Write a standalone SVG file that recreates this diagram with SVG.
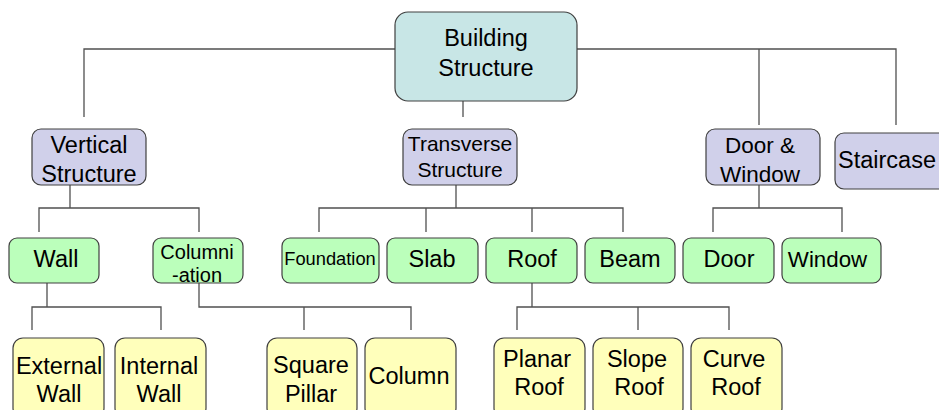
<svg xmlns="http://www.w3.org/2000/svg" width="939" height="410" viewBox="0 0 939 410">
  <style>
    .box { stroke: #404040; stroke-width: 1.2; }
    .root { fill: #C8E6E6; }
    .l1 { fill: #D0D0EA; }
    .l2 { fill: #BBFFBB; }
    .l3 { fill: #FFFFBB; }
    .link { fill: none; stroke: #505050; stroke-width: 1.3; }
    text { font-family: "Liberation Sans", Arial, sans-serif; font-size: 23.5px; fill: #000; text-anchor: middle; }
  </style>

  <!-- connectors -->
  <g id="connectors">
    <!-- root to first level -->
    <path class="link" d="M395 49 H84 V117"/>
    <path class="link" d="M577 49 H896 V125"/>
    <path class="link" d="M759 49 V125"/>
    <path class="link" d="M463 101 V117"/>
    <!-- Vertical Structure -->
    <path class="link" d="M70 185 V208 M39 232 V208 H199 V232"/>
    <!-- Transverse Structure -->
    <path class="link" d="M456 185 V208 M319 232 V208 H623 V232 M426 208 V232 M532 208 V232"/>
    <!-- Door & Window -->
    <path class="link" d="M759 185 V208 M713 232 V208 H842 V232"/>
    <!-- Wall -->
    <path class="link" d="M47 283 V307 M32 330 V307 H161 V330"/>
    <!-- Columniation -->
    <path class="link" d="M199 283 V307 H411 V330 M304 307 V330"/>
    <!-- Roof -->
    <path class="link" d="M532 283 V307 M517 330 V307 H729 V330 M638 307 V330"/>
  </g>

  <!-- root -->
  <g id="building-structure">
    <rect class="box root" x="395" y="12" width="182" height="89" rx="13"/>
    <text x="486" y="46">Building</text>
    <text x="486" y="76">Structure</text>
  </g>

  <!-- first level -->
  <g id="vertical-structure">
    <rect class="box l1" x="32" y="129" width="114" height="56" rx="9"/>
    <text x="89" y="153">Vertical</text>
    <text x="89" y="182">Structure</text>
  </g>
  <g id="transverse-structure">
    <rect class="box l1" x="403" y="129" width="114" height="56" rx="9"/>
    <text x="460" y="151" style="font-size:21px">Transverse</text>
    <text x="460" y="177" style="font-size:21px">Structure</text>
  </g>
  <g id="door-window">
    <rect class="box l1" x="706" y="129" width="114" height="56" rx="9"/>
    <text x="760" y="153" style="font-size:22.5px">Door &amp;</text>
    <text x="760" y="182" style="font-size:22.5px">Window</text>
  </g>
  <g id="staircase">
    <rect class="box l1" x="835" y="133" width="114" height="56" rx="9"/>
    <text x="838" y="168" style="text-anchor:start">Staircase</text>
  </g>

  <!-- second level -->
  <g id="wall">
    <rect class="box l2" x="9" y="238" width="90" height="45" rx="8"/>
    <text x="56" y="267">Wall</text>
  </g>
  <g id="columniation">
    <rect class="box l2" x="153" y="238" width="90" height="45" rx="8"/>
    <text x="197" y="259" style="font-size:20px">Columni</text>
    <text x="197" y="282" style="font-size:20px">-ation</text>
  </g>
  <g id="foundation">
    <rect class="box l2" x="282" y="238" width="97" height="45" rx="8"/>
    <text x="330" y="265" style="font-size:18.3px">Foundation</text>
  </g>
  <g id="slab">
    <rect class="box l2" x="387" y="238" width="91" height="45" rx="8"/>
    <text x="432" y="267">Slab</text>
  </g>
  <g id="roof">
    <rect class="box l2" x="486" y="238" width="91" height="45" rx="8"/>
    <text x="532" y="267">Roof</text>
  </g>
  <g id="beam">
    <rect class="box l2" x="585" y="238" width="90" height="45" rx="8"/>
    <text x="630" y="267">Beam</text>
  </g>
  <g id="door">
    <rect class="box l2" x="683" y="238" width="91" height="45" rx="8"/>
    <text x="729" y="267">Door</text>
  </g>
  <g id="window">
    <rect class="box l2" x="782" y="238" width="99" height="45" rx="8"/>
    <text x="827.5" y="267" style="font-size:22.3px">Window</text>
  </g>

  <!-- third level -->
  <g id="external-wall">
    <rect class="box l3" x="13" y="338" width="91" height="80" rx="10"/>
    <text x="59" y="374">External</text>
    <text x="59" y="402">Wall</text>
  </g>
  <g id="internal-wall">
    <rect class="box l3" x="115" y="338" width="91" height="80" rx="10"/>
    <text x="159" y="374">Internal</text>
    <text x="159" y="402">Wall</text>
  </g>
  <g id="square-pillar">
    <rect class="box l3" x="267" y="338" width="90" height="80" rx="10"/>
    <text x="311" y="373">Square</text>
    <text x="311" y="402">Pillar</text>
  </g>
  <g id="column">
    <rect class="box l3" x="365" y="338" width="91" height="80" rx="10"/>
    <text x="409" y="384">Column</text>
  </g>
  <g id="planar-roof">
    <rect class="box l3" x="494" y="338" width="91" height="80" rx="10"/>
    <text x="537" y="367">Planar</text>
    <text x="539" y="395">Roof</text>
  </g>
  <g id="slope-roof">
    <rect class="box l3" x="593" y="338" width="90" height="80" rx="10"/>
    <text x="637" y="367">Slope</text>
    <text x="639" y="395">Roof</text>
  </g>
  <g id="curve-roof">
    <rect class="box l3" x="691" y="338" width="91" height="80" rx="10"/>
    <text x="734" y="367">Curve</text>
    <text x="736" y="395">Roof</text>
  </g>
</svg>
